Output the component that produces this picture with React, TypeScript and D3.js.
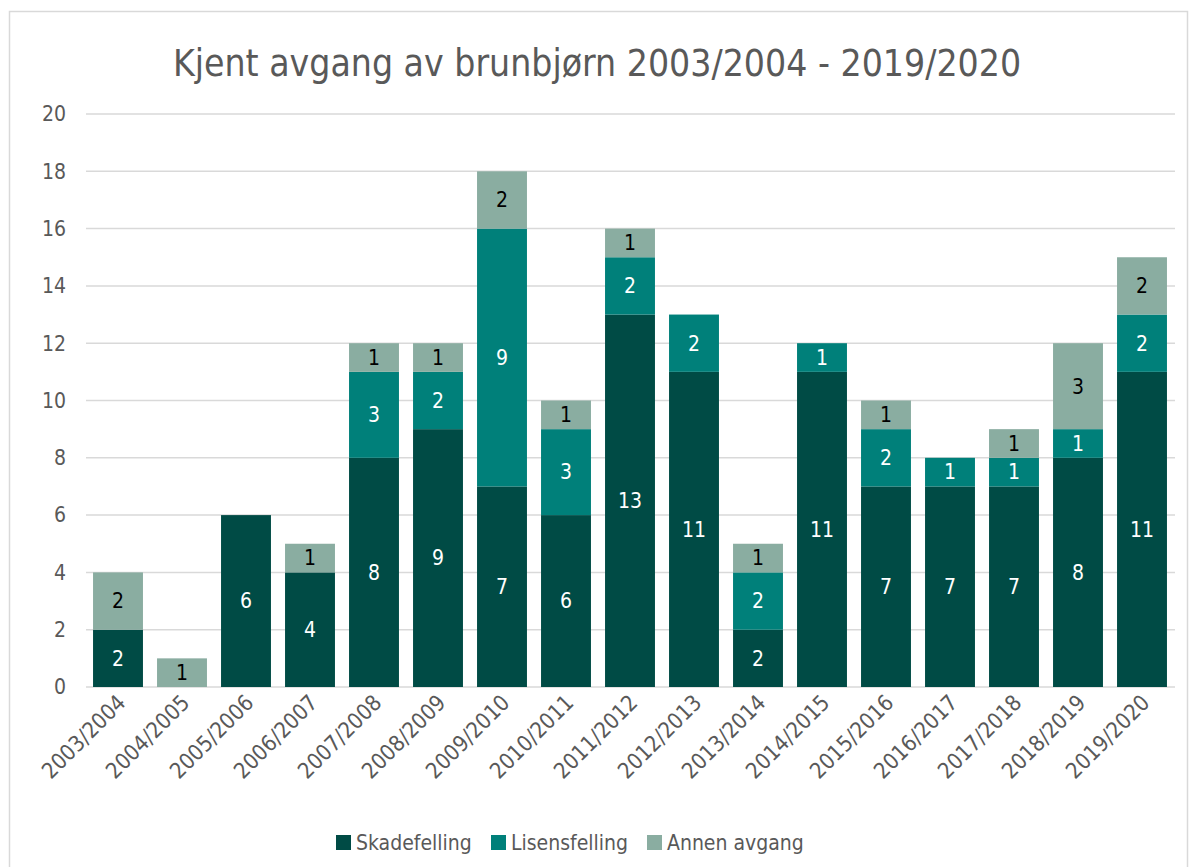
import React from 'react';
import * as d3 from 'd3';

const seasons = [
  '2003/2004', '2004/2005', '2005/2006', '2006/2007', '2007/2008', '2008/2009',
  '2009/2010', '2010/2011', '2011/2012', '2012/2013', '2013/2014', '2014/2015',
  '2015/2016', '2016/2017', '2017/2018', '2018/2019', '2019/2020',
];
const skadefelling = [2, 0, 6, 4, 8, 9, 7, 6, 13, 11, 2, 11, 7, 7, 7, 8, 11];
const lisensfelling = [0, 0, 0, 0, 3, 2, 9, 3, 2, 2, 2, 1, 2, 1, 1, 1, 2];
const annenAvgang = [2, 1, 0, 1, 1, 1, 2, 1, 1, 0, 1, 0, 1, 0, 1, 3, 2];
const yTicks = [0, 2, 4, 6, 8, 10, 12, 14, 16, 18, 20];

const seriesNames = ['Skadefelling', 'Lisensfelling', 'Annen avgang'];
const colors = ['#004b45', '#00807a', '#8aada1'];
const labelColors = ['#ffffff', '#ffffff', '#000000'];

const W = 1189;
const H = 867;
const FONT = '"DejaVu Sans Condensed", "Liberation Sans Narrow", "DejaVu Sans", sans-serif';

export default function App() {
  const x = d3.scaleBand<string>()
    .domain(seasons)
    .range([86, 1174])
    .paddingInner(0.22)
    .paddingOuter(0.11);
  const y = d3.scaleLinear().domain([0, 20]).range([687, 114]);

  const rows = seasons.map((s, i) => ({
    season: s,
    Skadefelling: skadefelling[i],
    Lisensfelling: lisensfelling[i],
    'Annen avgang': annenAvgang[i],
  }));
  const stacked = d3.stack<any>().keys(seriesNames)(rows);

  // legend layout
  const legendItems = [
    { name: 'Skadefelling', x: 336 },
    { name: 'Lisensfelling', x: 491 },
    { name: 'Annen avgang', x: 647 },
  ];

  return (
    <svg width={W} height={H} style={{ position: 'absolute', left: 0, top: 0 }} fontFamily={FONT} fontStretch="condensed">
      <rect x={0} y={0} width={W} height={H} fill="#fff" />
      <rect x={9.5} y={11.5} width={W - 11} height={H} fill="none" stroke="#d9d9d9" strokeWidth={1.5} />
      <text x={597} y={76} textAnchor="middle" fontSize={37} fill="#595959">
        Kjent avgang av brunbjørn 2003/2004 - 2019/2020
      </text>

      {yTicks.map(t => (
        <g key={t}>
          <line x1={86} x2={1175} y1={y(t)} y2={y(t)} stroke="#d9d9d9" strokeWidth={1.5} />
          <text x={66} y={y(t)} dy="0.35em" textAnchor="end" fontSize={21} fill="#595959">{t}</text>
        </g>
      ))}

      {stacked.map((layer, si) => (
        <g key={layer.key}>
          {layer.map((d, i) => {
            const v = d[1] - d[0];
            if (v <= 0) return null;
            const bx = x(seasons[i])!;
            return (
              <g key={i}>
                <rect x={bx} y={y(d[1])} width={x.bandwidth()} height={y(d[0]) - y(d[1])} fill={colors[si]} />
                <text
                  x={bx + x.bandwidth() / 2}
                  y={(y(d[0]) + y(d[1])) / 2}
                  dy="0.35em"
                  textAnchor="middle"
                  fontSize={21}
                  fill={labelColors[si]}
                >{v}</text>
              </g>
            );
          })}
        </g>
      ))}

      {seasons.map(s => {
        const cx = x(s)! + x.bandwidth() / 2 + 9;
        return (
          <text
            key={s}
            transform={`translate(${cx},${704}) rotate(-45)`}
            textAnchor="end"
            fontSize={22}
            fill="#595959"
          >{s}</text>
        );
      })}

      {legendItems.map((l, i) => (
        <g key={l.name}>
          <rect x={l.x} y={835} width={15} height={15} fill={colors[i]} />
          <text x={l.x + 20} y={843} dy="0.35em" fontSize={21} fill="#595959">{l.name}</text>
        </g>
      ))}
    </svg>
  );
}
